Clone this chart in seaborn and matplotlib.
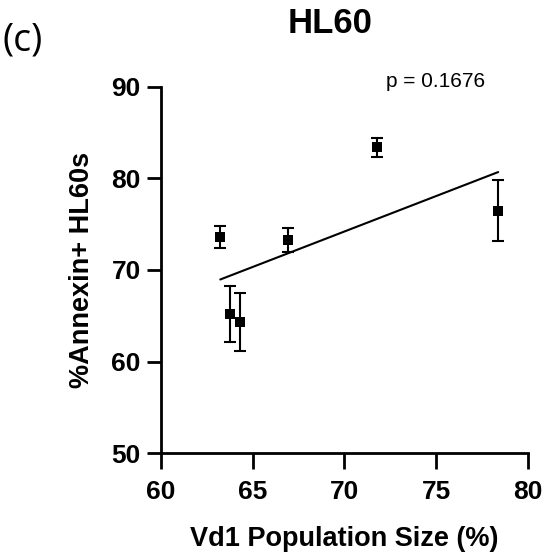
import matplotlib
matplotlib.use("Agg")
import matplotlib.pyplot as plt
import seaborn as sns
import numpy as np
import pandas as pd

vd1_size = [63.24, 63.75, 64.33, 66.92, 71.79, 78.37]
annexin_pct = [73.6, 65.2, 64.3, 73.25, 83.37, 76.47]
annexin_err = [1.2, 3.1, 3.2, 1.3, 1.0, 3.3]
x_ticks = [60, 65, 70, 75, 80]
y_ticks = [50, 60, 70, 80, 90]

sns.set_theme(style="ticks")
plt.rcParams['font.family'] = ['Liberation Sans', 'DejaVu Sans']
plt.rcParams['text.color'] = 'black'
plt.rcParams['axes.labelcolor'] = 'black'
plt.rcParams['xtick.color'] = 'black'
plt.rcParams['ytick.color'] = 'black'

df = pd.DataFrame({"x": vd1_size, "y": annexin_pct, "err": annexin_err})

fig = plt.figure(figsize=(5.45, 5.56), dpi=100)
ax = fig.add_axes([0.295, 0.185, 0.674, 0.659])

ax.errorbar(df["x"], df["y"], yerr=df["err"], fmt='none', ecolor='black',
            elinewidth=1.5, capsize=4, capthick=1.5, zorder=3)
sns.regplot(data=df, x="x", y="y", ci=None, ax=ax,
            marker='s', scatter_kws=dict(s=50, color='black', zorder=4, linewidths=0, alpha=1),
            line_kws=dict(color='black', lw=1.5, zorder=2))

ax.set_xlim(60, 80)
ax.set_ylim(50, 90)
ax.set_xticks(x_ticks)
ax.set_yticks(y_ticks)
for s in ['top', 'right']:
    ax.spines[s].set_visible(False)
for s in ['left', 'bottom']:
    ax.spines[s].set_linewidth(2)
    ax.spines[s].set_color('black')
ax.tick_params(axis='both', width=2, color='black', labelcolor='black', labelsize=19)
ax.tick_params(axis='x', length=11.5, pad=8)
ax.tick_params(axis='y', length=10, pad=4.5)
for lab in ax.get_xticklabels() + ax.get_yticklabels():
    lab.set_fontweight('bold')

ax.set_xlabel("Vd1 Population Size (%)", fontsize=19.5, fontweight='bold', labelpad=16, color='black')
ax.set_ylabel("%Annexin+ HL60s", fontsize=19.5, fontweight='bold', labelpad=12, color='black')

fig.text(0.605, 0.958, "HL60", fontsize=25, fontweight='bold', ha='center', va='center', color='black')
fig.text(0.005, 0.928, "(c)", fontsize=27, ha='left', va='center', color='black',
         family=['Open Sans', 'DejaVu Sans'])
ax.text(0.883, 1.014, "p = 0.1676", transform=ax.transAxes, fontsize=15, ha='right',
        va='center', color='black')

fig.savefig("out.png", dpi=100)
